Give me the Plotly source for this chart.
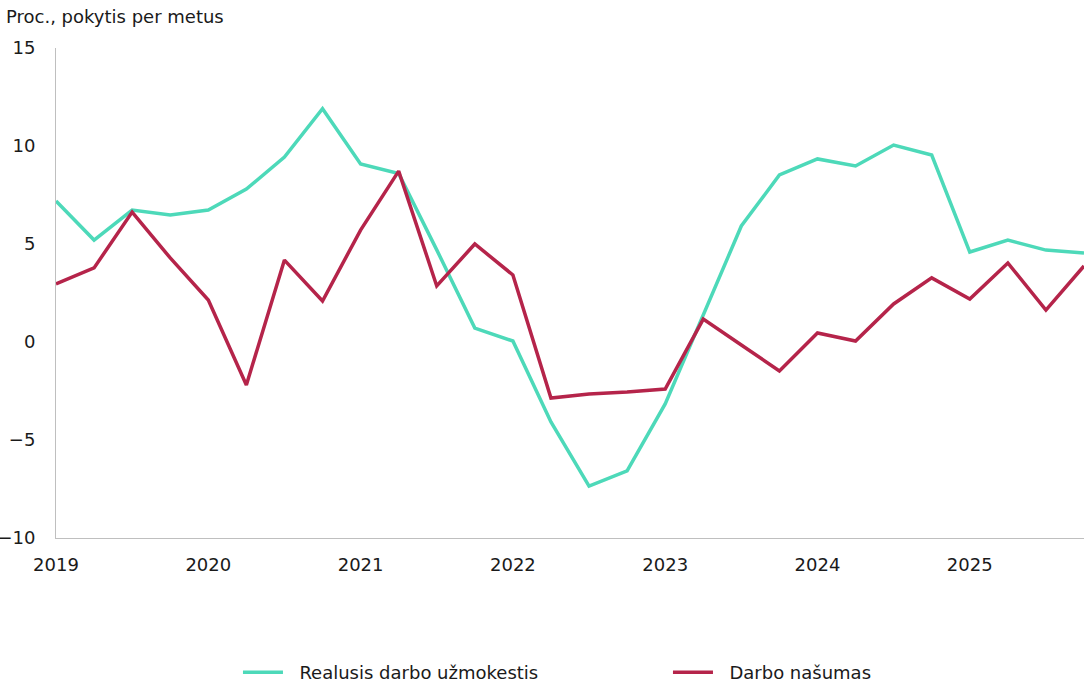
import plotly.graph_objects as go

quarters = [2019 + i * 0.25 for i in range(28)]
tick_years = [2019, 2020, 2021, 2022, 2023, 2024, 2025]
tick_labels = ["2019", "2020", "2021", "2022", "2023", "2024", "2025"]

realusis = [7.19, 5.2, 6.73, 6.48, 6.73, 7.8, 9.44, 11.9, 9.08, 8.6, 4.7, 0.71,
            0.05, -4.08, -7.35, -6.58, -3.16, 1.38, 5.92, 8.52, 9.34, 8.98, 10.05, 9.54,
            4.59, 5.2, 4.69, 4.54]
nasumas = [2.96, 3.78, 6.63, 4.29, 2.14, -2.19, 4.18, 2.09, 5.71, 8.72, 2.86, 5.0,
           3.42, -2.86, -2.65, -2.55, -2.4, 1.17, -0.15, -1.48, 0.46, 0.05, 1.94, 3.27,
           2.19, 4.03, 1.63, 3.88]

font_family = "DejaVu Sans, Verdana, sans-serif"
pad = "\u00a0\u00a0"

fig = go.Figure()
fig.add_trace(go.Scatter(x=quarters, y=realusis, mode="lines",
                         name=pad + "Realusis darbo užmokestis",
                         line=dict(color="#4DD9B9", width=3.5)))
fig.add_trace(go.Scatter(x=quarters, y=nasumas, mode="lines",
                         name=pad + "Darbo našumas",
                         line=dict(color="#B5244A", width=3.5)))

fig.update_layout(
    width=1089, height=685,
    margin=dict(l=56, r=5, t=48, b=147, autoexpand=False),
    paper_bgcolor="white", plot_bgcolor="white",
    font=dict(family=font_family, size=18, color="#1a1a1a"),
    showlegend=True,
    legend=dict(orientation="h", x=0.5953, xanchor="center", y=-0.237, yanchor="top",
                font=dict(size=18), itemwidth=40, tracegroupgap=0,
                entrywidth=375, entrywidthmode="pixels"),
    xaxis=dict(range=[2019, 2025.75], tickvals=tick_years, ticktext=tick_labels,
               showgrid=False, zeroline=False, showline=True, linecolor="#bfbfbf",
               linewidth=1, ticks="", ticklen=0, automargin=False,
               ticklabelstandoff=10),
    yaxis=dict(range=[-10, 15], tickvals=[-10, -5, 0, 5, 10, 15],
               ticktext=["−10", "−5", "0", "5", "10", "15"],
               showgrid=False, zeroline=False, showline=True, linecolor="#bfbfbf",
               linewidth=1, ticks="", ticklabelstandoff=16, automargin=False),
    annotations=[dict(text="Proc., pokytis per metus", xref="paper", yref="paper",
                      x=-52/1028, y=1 + 32/490, xanchor="left", yanchor="middle",
                      showarrow=False, font=dict(size=18, family=font_family))],
)

fig.write_html("out.html", config={"displayModeBar": False},
               post_script="document.body.style.margin='0';")
